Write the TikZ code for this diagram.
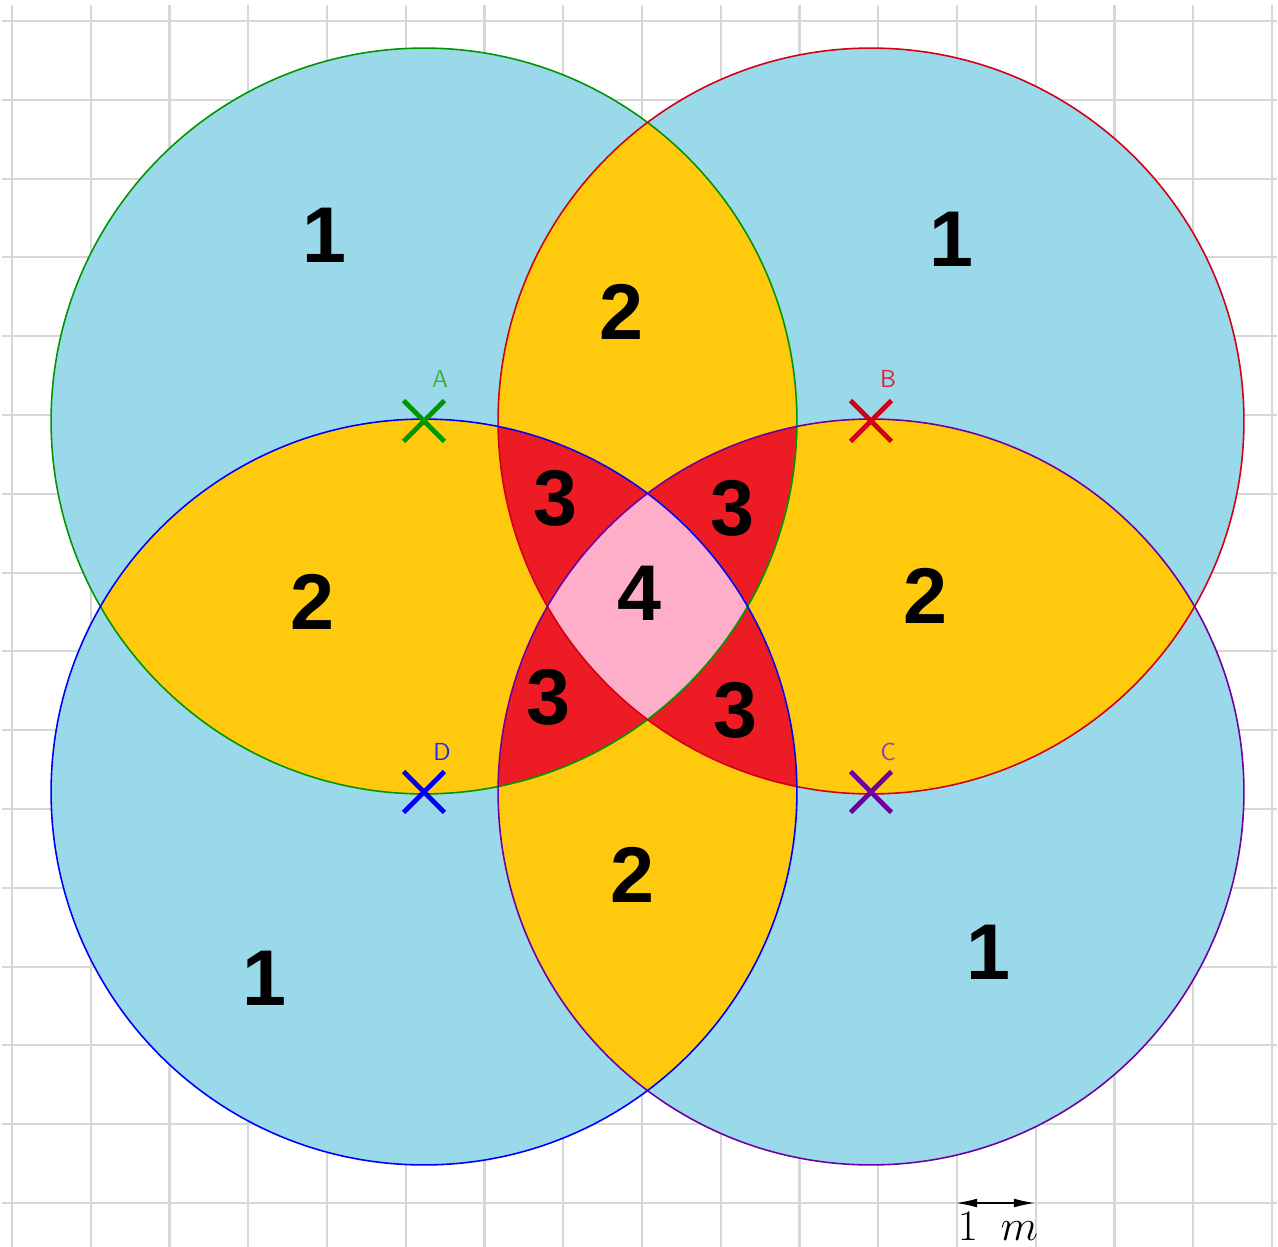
\documentclass[tikz,border=0pt]{standalone}
\usepackage{fontspec}
\newfontfamily\numfont{Liberation Sans}
\usetikzlibrary{arrows.meta,shapes.misc}
\definecolor{lblue}{RGB}{153,217,234}
\definecolor{gold}{RGB}{255,201,14}
\definecolor{cred}{RGB}{237,28,36}
\definecolor{cpink}{RGB}{255,174,201}
\definecolor{cA}{RGB}{0,150,0}
\definecolor{cB}{RGB}{210,0,20}
\definecolor{cC}{RGB}{110,0,160}
\definecolor{cD}{RGB}{0,0,250}
\definecolor{gridc}{RGB}{215,215,215}
\tikzset{
  gridline/.style={draw=gridc, line width=1.2pt},
  ring/.style={line width=0.9pt},
  xmark/.style={cross out, draw, line width=2.8pt, minimum size=0.72cm, inner sep=0pt},
  ptlabel/.style={font=\sffamily\fontsize{14}{14}\selectfont},
  num/.style={font=\numfont\bfseries\fontsize{45}{45}\selectfont, inner sep=0pt},
}
\def\R{7.46cm}
\begin{document}
\begin{tikzpicture}[x=0.02cm,y=-0.02cm]
\useasboundingbox (0,0) rectangle (1278,1247);
\fill[white] (0,0) rectangle (1278,1247);
% grid
\foreach \i in {0,...,16} \draw[gridline] ({12+78.75*\i},5) -- ({12+78.75*\i},1247);
\foreach \j in {0,...,15} \draw[gridline] (2,{21+78.8*\j}) -- (1277,{21+78.8*\j});
% centres
\coordinate (A) at (424,421);
\coordinate (B) at (871,421);
\coordinate (C) at (871,792);
\coordinate (D) at (424,792);
% fills by overlap count
\foreach \P in {A,B,C,D} \fill[lblue] (\P) circle (\R);
\foreach \P/\Q in {A/B,A/C,A/D,B/C,B/D,C/D}{
  \begin{scope}\clip (\P) circle (\R); \fill[gold] (\Q) circle (\R);\end{scope}}
\foreach \P/\Q/\S in {A/B/C,A/B/D,A/C/D,B/C/D}{
  \begin{scope}\clip (\P) circle (\R); \clip (\Q) circle (\R); \fill[cred] (\S) circle (\R);\end{scope}}
\begin{scope}\clip (A) circle (\R); \clip (B) circle (\R); \clip (C) circle (\R); \fill[cpink] (D) circle (\R);\end{scope}
% outlines
\draw[ring, cA] (A) circle (\R);
\draw[ring, cB] (B) circle (\R);
\draw[ring, cC] (C) circle (\R);
\draw[ring, cD] (D) circle (\R);
% centre marks
\node[xmark, draw=cA] (mA) at (A) {};
\node[xmark, draw=cB] (mB) at (B) {};
\node[xmark, draw=cC] (mC) at (C) {};
\node[xmark, draw=cD] (mD) at (D) {};
\node[ptlabel, text=cA!75] (lA) at (440,379) {A};
\node[ptlabel, text=cB!85] (lB) at (888,379) {B};
\node[ptlabel, text=cC!75] (lC) at (888,752) {C};
\node[ptlabel, text=cD!85] (lD) at (442,752) {D};
% region numbers
\node[num] (n1) at (324,235) {1};
\node[num] (n2) at (951,239) {1};
\node[num] (n3) at (264,978) {1};
\node[num] (n4) at (988,952) {1};
\node[num] (t1) at (621,312) {2};
\node[num] (t2) at (312,602) {2};
\node[num] (t3) at (925,596) {2};
\node[num] (t4) at (632,875) {2};
\node[num] (r1) at (555,498) {3};
\node[num] (r2) at (732,508) {3};
\node[num] (r3) at (548,697) {3};
\node[num] (r4) at (735,710) {3};
\node[num] (q1) at (639,593) {4};
% scale
\coordinate (s1) at (956,1203);
\coordinate (s2) at (1035,1203);
\draw[line width=0.8pt, {Latex[length=12pt,width=5pt]}-{Latex[length=12pt,width=5pt]}] (s1) -- (s2);
\node[anchor=base, font=\fontsize{26}{26}\selectfont, inner sep=0pt] (sc) at (998,1240) {$1\enspace m$};
\end{tikzpicture}
\end{document}
